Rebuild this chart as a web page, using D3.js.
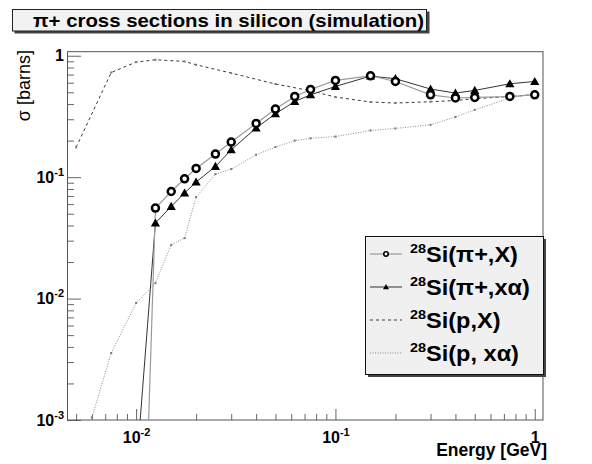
<!DOCTYPE html>
<html>
<head>
<meta charset="utf-8">
<script src="https://cdn.jsdelivr.net/npm/d3@7"></script>
<style>
  html, body { margin: 0; padding: 0; background: #fff; }
  svg { display: block; font-family: "Liberation Sans", Arial, Helvetica, sans-serif; }
</style>
</head>
<body>
<svg id="chart" width="592" height="464"></svg>
<script>
// Kinetic energies [GeV] at which the cross sections were simulated
const energyPi = [0.01, 0.0125, 0.015, 0.0175, 0.02, 0.025, 0.03, 0.04, 0.05, 0.0625,
                  0.075, 0.1, 0.15, 0.2, 0.3, 0.4, 0.5, 0.75, 1.0];
// 28Si(pi+,X) total reaction cross section [barns]
const sigmaPiX = [6e-7, 0.0556, 0.0762, 0.097, 0.118, 0.155, 0.1945, 0.277, 0.364, 0.462,
                  0.528, 0.626, 0.684, 0.614, 0.477, 0.449, 0.454, 0.462, 0.477];
// 28Si(pi+,x alpha) alpha production cross section [barns]
const sigmaPiAlpha = [3.7e-4, 0.0419, 0.0574, 0.074, 0.0912, 0.1225, 0.168, 0.254, 0.333, 0.42,
                      0.477, 0.559, 0.68, 0.647, 0.532, 0.493, 0.518, 0.588, 0.614];
// 28Si(p,X) for protons
const energyPX = [0.005, 0.0075, 0.01, 0.0125, 0.0175, 0.02, 0.03, 0.05, 0.075, 0.1,
                  0.15, 0.2, 0.3, 0.4, 0.5, 0.75, 1.0];
const sigmaPX = [0.176, 0.728, 0.887, 0.927, 0.898, 0.843, 0.72, 0.585, 0.515, 0.457,
                 0.416, 0.408, 0.418, 0.428, 0.443, 0.462, 0.477];
// 28Si(p,x alpha) for protons
const energyPAlpha = [0.006, 0.0075, 0.01, 0.0125, 0.015, 0.0175, 0.02, 0.025, 0.03, 0.04,
                      0.05, 0.0625, 0.075, 0.1, 0.15, 0.2, 0.3, 0.4, 0.5, 0.75, 1.0];
const sigmaPAlpha = [1.05e-3, 3.56e-3, 9.2e-3, 0.0134, 0.0277, 0.0315, 0.0686, 0.106, 0.1166, 0.153,
                     0.177, 0.2, 0.209, 0.216, 0.2425, 0.252, 0.27, 0.313, 0.359, 0.448, 0.493];

const titleText = "\u03c0+ cross sections in silicon (simulation)";
const xTitle = "Energy [GeV]";
const yTitle = "\u03c3 [barns]";
const legendLabels = ["Si(\u03c0+,X)", "Si(\u03c0+,x\u03b1)", "Si(p,X)", "Si(p, x\u03b1)"];
const xMajorTicks = [0.01, 0.1, 1];
const yMajorTicks = [0.001, 0.01, 0.1, 1];

const svg = d3.select("#chart");
const frame = { left: 67, right: 543, top: 51.7, bottom: 420 };

const x = d3.scaleLog().domain([0.0045, 1.1]).range([frame.left, frame.right]);
const y = d3.scaleLog().domain([1e-3, 1.08]).range([frame.bottom, frame.top]);

// minor ticks: 2..9 times each decade, inside the axis range
function minorTicks(scale) {
  const [a, b] = scale.domain();
  const out = [];
  for (let e = Math.floor(Math.log10(a)); e <= Math.ceil(Math.log10(b)); e++) {
    for (let m = 2; m <= 9; m++) {
      const v = m * Math.pow(10, e);
      if (v >= a && v <= b) out.push(v);
    }
  }
  return out;
}

// title box with drop shadow
svg.append("rect").attr("x", 14.5).attr("y", 11.5).attr("width", 415).attr("height", 22).attr("fill", "#444");
svg.append("rect").attr("x", 12.5).attr("y", 9.5).attr("width", 414).attr("height", 21.5)
  .attr("fill", "#f2f2f2").attr("stroke", "#222").attr("stroke-width", 1);
svg.append("text").attr("x", 33).attr("y", 26.5).attr("font-size", 19).attr("font-weight", "bold")
  .attr("textLength", 391).attr("lengthAdjust", "spacingAndGlyphs")
  .attr("fill", "#000").text(titleText);

// axes (ticks point inward)
const gxMinor = svg.append("g").attr("transform", `translate(0,${frame.bottom})`)
  .call(d3.axisBottom(x).tickValues(minorTicks(x)).tickSizeInner(-6).tickSizeOuter(0).tickFormat(() => ""));
const gxMajor = svg.append("g").attr("transform", `translate(0,${frame.bottom})`)
  .call(d3.axisBottom(x).tickValues(xMajorTicks).tickSizeInner(-11).tickSizeOuter(0).tickPadding(12));
const gyMinor = svg.append("g").attr("transform", `translate(${frame.left},0)`)
  .call(d3.axisLeft(y).tickValues(minorTicks(y)).tickSizeInner(-7).tickSizeOuter(0).tickFormat(() => ""));
const gyMajor = svg.append("g").attr("transform", `translate(${frame.left},0)`)
  .call(d3.axisLeft(y).tickValues(yMajorTicks).tickSizeInner(-14).tickSizeOuter(0).tickPadding(3));
svg.selectAll(".domain").remove();
svg.selectAll(".tick line").attr("stroke", "#666");
gxMinor.selectAll(".tick text").remove();
gyMinor.selectAll(".tick text").remove();

// decade labels as 10 with a raised exponent
function powerLabel(sel) {
  sel.each(function (d) {
    const t = d3.select(this);
    t.text(null).attr("font-size", 16).attr("font-weight", "bold")
      .attr("font-family", "'Liberation Sans', Arial, sans-serif").attr("fill", "#000");
    const e = Math.round(Math.log10(d));
    if (e === 0) { t.append("tspan").text("1"); return; }
    t.append("tspan").text("10");
    t.append("tspan").attr("font-size", 11).attr("dy", -7).text("-" + Math.abs(e));
  });
}
gxMajor.selectAll(".tick text").call(powerLabel);
gyMajor.selectAll(".tick text").call(powerLabel);

// frame
svg.append("rect").attr("x", frame.left + 0.5).attr("y", frame.top)
  .attr("width", frame.right - frame.left - 0.5).attr("height", frame.bottom - frame.top)
  .attr("fill", "none").attr("stroke", "#555").attr("stroke-width", 1);

// axis titles
svg.append("text").attr("x", 547).attr("y", 456).attr("text-anchor", "end")
  .attr("font-size", 17.5).attr("font-weight", "bold").text(xTitle);
svg.append("text").attr("transform", "translate(30,50) rotate(-90)").attr("text-anchor", "end")
  .attr("font-size", 18).text(yTitle);

// data curves, clipped to the frame
svg.append("clipPath").attr("id", "plotclip").append("rect")
  .attr("x", frame.left).attr("y", frame.top)
  .attr("width", frame.right - frame.left).attr("height", frame.bottom - frame.top);
const plot = svg.append("g").attr("clip-path", "url(#plotclip)");

const line = d3.line().x(d => x(d[0])).y(d => y(d[1]));
const zip = (a, b) => a.map((v, i) => [v, b[i]]);

const series = [
  { pts: zip(energyPX, sigmaPX), stroke: "#222", width: 0.9, dash: "3,3", marker: "dot" },
  { pts: zip(energyPAlpha, sigmaPAlpha), stroke: "#8a8a8a", width: 1, dash: "1,1.5", marker: "dot" },
  { pts: zip(energyPi, sigmaPiAlpha), stroke: "#333", width: 1, dash: null, marker: "triangle" },
  { pts: zip(energyPi, sigmaPiX), stroke: "#9a9a9a", width: 1.2, dash: null, marker: "circle" }
];

function drawMarker(g, kind, cx, cy, small) {
  if (kind === "circle") {
    g.append("circle").attr("cx", cx).attr("cy", cy).attr("r", small ? 2.2 : 3.5)
      .attr("fill", "#fff").attr("stroke", "#000").attr("stroke-width", small ? 1.6 : 2.5);
  } else if (kind === "triangle") {
    const s = small ? 3 : 4.6;
    g.append("path").attr("d", `M${cx},${cy - s}L${cx + s},${cy + s * 0.75}L${cx - s},${cy + s * 0.75}Z`)
      .attr("fill", "#000");
  } else {
    g.append("rect").attr("x", cx - 1).attr("y", cy - 1).attr("width", 2).attr("height", 2).attr("fill", "#777");
  }
}

series.forEach(s => {
  plot.append("path").datum(s.pts).attr("d", line).attr("fill", "none")
    .attr("stroke", s.stroke).attr("stroke-width", s.width)
    .attr("stroke-dasharray", s.dash);
});
series.forEach(s => {
  s.pts.forEach(p => {
    if (y(p[1]) <= frame.bottom) drawMarker(plot, s.marker, x(p[0]), y(p[1]), false);
  });
});

// legend
const lg = { x: 365, y: 236, w: 178, h: 138 };
svg.append("rect").attr("x", lg.x + 3).attr("y", lg.y + 3).attr("width", lg.w).attr("height", lg.h).attr("fill", "#444");
svg.append("rect").attr("x", lg.x + 0.5).attr("y", lg.y + 0.5).attr("width", lg.w).attr("height", lg.h)
  .attr("fill", "#f0f0f0").attr("stroke", "#111").attr("stroke-width", 1);
const legendOrder = [series[3], series[2], series[0], series[1]];
legendOrder.forEach((s, i) => {
  const cy = 254 + i * 33;
  const g = svg.append("g");
  g.append("line").attr("x1", 370).attr("x2", 402).attr("y1", cy).attr("y2", cy)
    .attr("stroke", s.stroke).attr("stroke-width", s.width).attr("stroke-dasharray", s.dash);
  if (s.marker !== "dot") drawMarker(g, s.marker, 386, cy, true);
  const t = g.append("text").attr("transform", `translate(410,${cy + 7.5}) scale(1.07,1)`)
    .attr("font-weight", "bold").attr("fill", "#000");
  t.append("tspan").attr("font-size", 13.5).attr("dy", -8.5).text("28");
  t.append("tspan").attr("font-size", 22).attr("dy", 8.5).text(legendLabels[i]);
});
</script>
</body>
</html>
